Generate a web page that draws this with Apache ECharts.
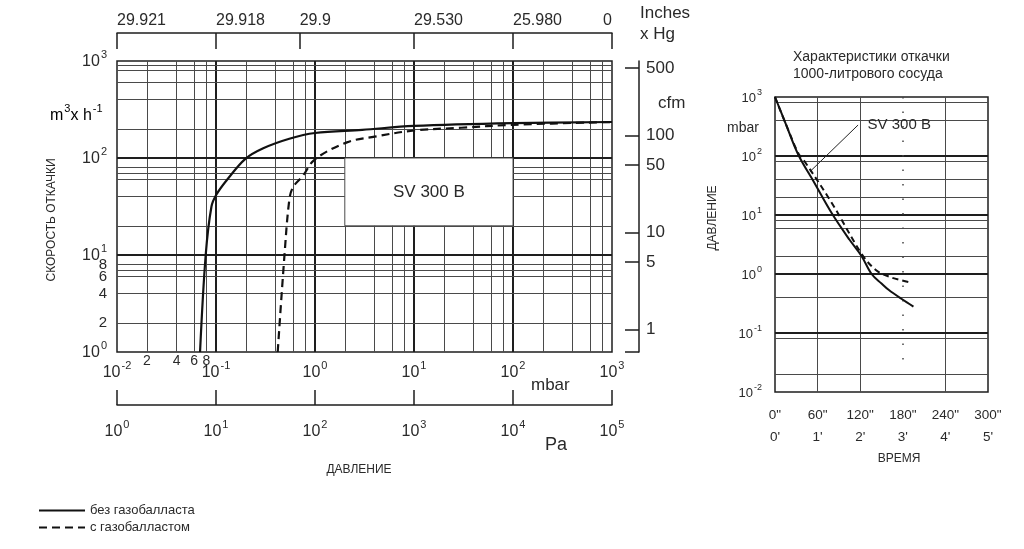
<!DOCTYPE html>
<html>
<head>
<meta charset="utf-8">
<script src="https://cdn.jsdelivr.net/npm/echarts@6/dist/echarts.min.js"></script>
<style>
html, body { margin: 0; padding: 0; background: #fff; }
#main { width: 1024px; height: 549px; }
</style>
</head>
<body>
<div id="main"></div>
<script>
// левая диаграмма: скорость откачки (m3/h) от давления (mbar)
const pressNoGb = [0.069, 0.0787, 0.09, 0.101, 0.13, 0.198, 0.3, 0.55, 1.0, 3, 10, 100, 1000];
const speedNoGb = [1, 10, 31.6, 42, 60, 98, 126, 158, 181, 195, 214, 229, 235];
const pressGb = [0.42, 0.49, 0.55, 0.6, 0.75, 1.0, 2.1, 4, 10, 30, 100, 1000];
const speedGb = [1, 9.5, 37, 50, 65, 97, 145, 166, 192, 205, 220, 235];

// шкалы левой диаграммы
const mbarTicks = [0.01, 0.1, 1, 10, 100, 1000];
const mbarSmall = [0.02, 0.04, 0.06, 0.08];
const paTicks = [1, 10, 100, 1000, 10000, 100000];
const speedTicks = [1, 2, 4, 6, 8, 10, 100, 1000];
const inchPos = [0.01, 0.1, 0.7, 10, 100, 1000];          // положение в mbar
const inchLabels = ['29.921', '29.918', '29.9', '29.530', '25.980', '0'];
const cfmTicks = [1, 5, 10, 50, 100, 500];
const CFM = 1.699; // m3/h в 1 cfm

// сетка левой диаграммы
const xMinor = [0.02, 0.04, 0.06, 0.08, 0.2, 0.4, 0.6, 0.8, 2, 4, 6, 8, 20, 40, 60, 80, 200, 400, 600, 800];
const xMajor = [0.1, 1, 10, 100];
const yMinor = [2, 4, 6, 7, 8, 20, 40, 60, 70, 80, 200, 400, 600, 800, 900];
const yMajor = [10, 100];
const boxPress = [2, 100];
const boxSpeed = [20, 100];

// правая диаграмма: откачка сосуда 1000 л, время (с) / давление (mbar)
const timeNoGb = [0, 15, 33, 55, 80, 105, 122, 136, 150, 160, 178, 195];
const pNoGb = [1000, 355, 104, 36, 10.7, 3.8, 2.0, 1.0, 0.69, 0.54, 0.38, 0.28];
const timeGb = [0, 15, 33, 42, 80, 122, 142, 163, 193];
const pGb = [1000, 355, 110, 80, 16, 2.2, 1.17, 0.88, 0.71];

const rTimeTicks = [0, 60, 120, 180, 240, 300];
const rPressTicks = [0.01, 0.1, 1, 10, 100, 1000];
const rxLines = [60, 120, 240];
const rDotted = [180];
const ryMinor = [800, 400, 80, 40, 20, 8, 6, 2, 0.4, 0.08, 0.02];
const ryMajor = [100, 10, 1, 0.1];
const leader = [[49, 54], [117, 335]];

const FONT = "'Liberation Sans', Arial, sans-serif";
const TXT = '#2a2a2a';
const LINE = '#1e1e1e';

function isPow10(v) {
  const l = Math.log10(v);
  return Math.abs(l - Math.round(l)) < 1e-6;
}
function powLabel(v) {
  return '{b|10}{s|' + Math.round(Math.log10(v)) + '}';
}
function supRich(base, sup, raise) {
  const bl = base + 2, sl = sup + 1;
  return {
    b: { fontSize: base, lineHeight: bl, fontFamily: FONT, color: TXT, verticalAlign: 'bottom' },
    s: { fontSize: sup, lineHeight: sl, fontFamily: FONT, color: TXT, verticalAlign: 'bottom',
         padding: [0, 0, bl / 2 + raise - sl / 2, 1] },
    n: { fontSize: base - 1, fontFamily: FONT, color: TXT }
  };
}

const minorStyle = { color: '#4a4a4a', width: 1, type: 'solid' };
const majorStyle = { color: LINE, width: 2, type: 'solid' };

const chart = echarts.init(document.getElementById('main'));

const logX = { type: 'log', logBase: 10, min: 0.01, max: 1000, gridIndex: 0 };
const hidden = { axisLine: { show: false }, axisTick: { show: false }, splitLine: { show: false } };

const option = {
  animation: false,
  backgroundColor: '#fff',
  textStyle: { fontFamily: FONT },
  title: {
    text: 'Характеристики откачки\n1000-литрового сосуда',
    left: 793, top: 49, padding: 0,
    textStyle: { fontSize: 14, fontWeight: 'normal', color: TXT, lineHeight: 17, fontFamily: FONT }
  },
  legend: {
    data: ['без газобалласта', 'с газобалластом'],
    orient: 'vertical', left: 38, top: 504, padding: 0,
    itemWidth: 46, itemHeight: 12, itemGap: 4,
    itemStyle: { opacity: 0, color: 'transparent', borderWidth: 0 },
    textStyle: { fontSize: 13, color: TXT, fontFamily: FONT }
  },
  grid: [
    { left: 117, top: 61, width: 495, height: 291, show: true, borderColor: LINE, borderWidth: 1.5,
      backgroundColor: 'transparent', containLabel: false, outerBoundsMode: 'none' },
    { left: 775, top: 97, width: 213, height: 295, show: true, borderColor: LINE, borderWidth: 1.5,
      backgroundColor: 'transparent', containLabel: false, outerBoundsMode: 'none' }
  ],
  xAxis: [
    // mbar
    Object.assign({}, logX, hidden, {
      position: 'bottom', offset: 0,
      axisLabel: { customValues: mbarTicks, margin: 11, formatter: powLabel, rich: supRich(16, 11, 7) }
    }),
    // 2 4 6 8
    Object.assign({}, logX, hidden, {
      position: 'bottom', offset: 0,
      axisLabel: { customValues: mbarSmall, margin: 2, fontSize: 14, color: TXT, fontFamily: FONT,
        formatter: v => String(Math.round(v * 100)) }
    }),
    // Pa
    {
      type: 'log', logBase: 10, min: 1, max: 100000, gridIndex: 0, position: 'bottom', offset: 53,
      axisLine: { show: true, lineStyle: { color: LINE, width: 1.5 } },
      axisTick: { show: true, inside: true, length: 15, customValues: paTicks, lineStyle: { color: LINE, width: 1.5 } },
      splitLine: { show: false },
      axisLabel: { customValues: paTicks, margin: 17, formatter: powLabel, rich: supRich(16, 11, 7) }
    },
    // Inches Hg
    Object.assign({}, logX, {
      position: 'top', offset: 28,
      axisLine: { show: true, lineStyle: { color: LINE, width: 1.5 } },
      axisTick: { show: true, inside: true, length: 16, customValues: inchPos, lineStyle: { color: LINE, width: 1.5 } },
      splitLine: { show: false },
      axisLabel: {
        customValues: inchPos, margin: 4, fontSize: 16, color: TXT, fontFamily: FONT,
        align: 'left', alignMaxLabel: 'right',
        formatter: v => inchLabels[inchPos.findIndex(p => Math.abs(Math.log10(p) - Math.log10(v)) < 1e-6)]
      }
    }),
    // время
    Object.assign({}, hidden, {
      type: 'value', gridIndex: 1, min: 0, max: 300, interval: 60, position: 'bottom',
      axisLabel: {
        customValues: rTimeTicks, margin: 12, fontSize: 13.5, lineHeight: 22, color: TXT, fontFamily: FONT,
        formatter: v => v + '"\n' + (v / 60) + '\''
      }
    })
  ],
  yAxis: [
    // m3/h
    {
      type: 'log', logBase: 10, min: 1, max: 1000, gridIndex: 0, position: 'left',
      axisLine: { show: false }, axisTick: { show: false }, splitLine: { show: false },
      axisLabel: {
        customValues: speedTicks, margin: 10,
        formatter: v => isPow10(v) ? powLabel(v) : '{n|' + v + '}',
        rich: supRich(16, 11, 7)
      }
    },
    // cfm
    {
      type: 'log', logBase: 10, min: 1 / CFM, max: 1000 / CFM, gridIndex: 0, position: 'right', offset: 27,
      axisLine: { show: true, lineStyle: { color: LINE, width: 1.5 } },
      axisTick: { show: true, inside: true, length: 14, customValues: [1 / CFM].concat(cfmTicks, [1000 / CFM]),
        lineStyle: { color: LINE, width: 1.5 } },
      splitLine: { show: false },
      axisLabel: { customValues: cfmTicks, margin: 7, fontSize: 17, color: TXT, fontFamily: FONT, padding: [0, 0, 4, 0] }
    },
    // давление, правая диаграмма
    {
      type: 'log', logBase: 10, min: 0.01, max: 1000, gridIndex: 1, position: 'left',
      axisLine: { show: false }, axisTick: { show: false }, splitLine: { show: false },
      axisLabel: { customValues: rPressTicks, margin: 13, formatter: powLabel, rich: supRich(13, 9, 5) }
    }
  ],
  graphic: [
    { type: 'text', x: 640, y: 13, style: { text: 'Inches', fontSize: 17, fontFamily: FONT, fill: TXT, align: 'left', verticalAlign: 'middle' } },
    { type: 'text', x: 640, y: 34, style: { text: 'x Hg', fontSize: 17, fontFamily: FONT, fill: TXT, align: 'left', verticalAlign: 'middle' } },
    { type: 'text', x: 658, y: 103, style: { text: 'cfm', fontSize: 17, fontFamily: FONT, fill: TXT, align: 'left', verticalAlign: 'middle' } },
    { type: 'text', x: 50, y: 115, style: { text: '{b|m}{s|3}{b|x h}{s|-1}', rich: supRich(16, 11, 7), align: 'left', verticalAlign: 'middle' } },
    { type: 'text', x: 531, y: 385, style: { text: 'mbar', fontSize: 17, fontFamily: FONT, fill: TXT, align: 'left', verticalAlign: 'middle' } },
    { type: 'text', x: 545, y: 445, style: { text: 'Pa', fontSize: 18, fontFamily: FONT, fill: TXT, align: 'left', verticalAlign: 'middle' } },
    { type: 'text', x: 359, y: 470, style: { text: 'ДАВЛЕНИЕ', fontSize: 12, fontFamily: FONT, fill: TXT, align: 'center', verticalAlign: 'middle' } },
    { type: 'text', x: 52, y: 220, rotation: Math.PI / 2, style: { text: 'СКОРОСТЬ ОТКАЧКИ', fontSize: 12, fontFamily: FONT, fill: TXT, align: 'center', verticalAlign: 'middle' } },
    { type: 'text', x: 727, y: 128, style: { text: 'mbar', fontSize: 14, fontFamily: FONT, fill: TXT, align: 'left', verticalAlign: 'middle' } },
    { type: 'text', x: 713, y: 218, rotation: Math.PI / 2, style: { text: 'ДАВЛЕНИЕ', fontSize: 12, fontFamily: FONT, fill: TXT, align: 'center', verticalAlign: 'middle' } },
    { type: 'text', x: 899, y: 459, style: { text: 'ВРЕМЯ', fontSize: 12, fontFamily: FONT, fill: TXT, align: 'center', verticalAlign: 'middle' } }
  ],
  series: [
    // сетка и рамка SV 300 B (левая)
    {
      name: 'grid-left', type: 'line', xAxisIndex: 0, yAxisIndex: 0, data: [], silent: true, z: 1,
      markLine: {
        silent: true, symbol: 'none', z: 1, label: { show: false },
        data: [].concat(
          xMinor.map(v => ({ xAxis: v, lineStyle: minorStyle })),
          xMajor.map(v => ({ xAxis: v, lineStyle: majorStyle })),
          yMinor.map(v => ({ yAxis: v, lineStyle: minorStyle })),
          yMajor.map(v => ({ yAxis: v, lineStyle: majorStyle }))
        )
      },
      markArea: {
        silent: true, z: 2,
        itemStyle: { color: '#fff', borderColor: '#4a4a4a', borderWidth: 1 },
        label: { show: true, position: 'inside', fontSize: 17, color: TXT, fontFamily: FONT },
        data: [[{ name: 'SV 300 B', xAxis: boxPress[0], yAxis: boxSpeed[0] }, { xAxis: boxPress[1], yAxis: boxSpeed[1] }]]
      }
    },
    // сетка (правая)
    {
      name: 'grid-right', type: 'line', xAxisIndex: 4, yAxisIndex: 2, data: [], silent: true, z: 1,
      markLine: {
        silent: true, symbol: 'none', z: 1, label: { show: false },
        data: [].concat(
          rxLines.map(v => ({ xAxis: v, lineStyle: minorStyle })),
          ryMinor.map(v => ({ yAxis: v, lineStyle: minorStyle })),
          ryMajor.map(v => ({ yAxis: v, lineStyle: majorStyle })),
          rDotted.map(v => [
            { coord: [v, 1000], lineStyle: { color: '#444', width: 1.5, type: [1.5, 13] } },
            { coord: [v, 0.03] }
          ])
        )
      }
    },
    {
      name: 'без газобалласта', type: 'line', xAxisIndex: 0, yAxisIndex: 0, z: 4,
      data: pressNoGb.map((p, i) => [p, speedNoGb[i]]),
      symbol: 'none', smooth: 0.35,
      lineStyle: { color: '#111', width: 2.2, type: 'solid' }, itemStyle: { color: '#111' }
    },
    {
      name: 'с газобалластом', type: 'line', xAxisIndex: 0, yAxisIndex: 0, z: 4,
      data: pressGb.map((p, i) => [p, speedGb[i]]),
      symbol: 'none', smooth: 0.35,
      lineStyle: { color: '#111', width: 2.2, type: [8, 5] }, itemStyle: { color: '#111' }
    },
    {
      name: 'без газобалласта', type: 'line', xAxisIndex: 4, yAxisIndex: 2, z: 4,
      data: timeNoGb.map((t, i) => [t, pNoGb[i]]),
      symbol: 'none', smooth: 0.35,
      lineStyle: { color: '#111', width: 2, type: 'solid' }, itemStyle: { color: '#111' },
      markLine: {
        silent: true, symbol: 'none', z: 4, label: { show: false },
        lineStyle: { color: '#222', width: 1, type: 'solid' },
        data: [[{ coord: leader[0] }, { coord: leader[1] }]]
      },
      markPoint: {
        silent: true, z: 4, symbol: 'circle', symbolSize: 1, itemStyle: { color: 'transparent' },
        label: { show: true, position: 'right', distance: 9, fontSize: 15, color: TXT, fontFamily: FONT, formatter: 'SV 300 B' },
        data: [{ coord: leader[1] }]
      }
    },
    {
      name: 'с газобалластом', type: 'line', xAxisIndex: 4, yAxisIndex: 2, z: 4,
      data: timeGb.map((t, i) => [t, pGb[i]]),
      symbol: 'none', smooth: 0.35,
      lineStyle: { color: '#111', width: 2, type: [6, 4] }, itemStyle: { color: '#111' }
    }
  ]
};

chart.setOption(option);
</script>
</body>
</html>
